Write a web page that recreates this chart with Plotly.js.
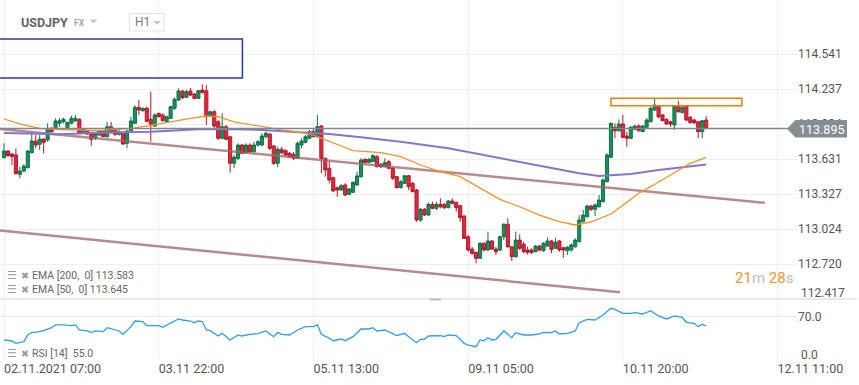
<!DOCTYPE html>
<html>
<head>
<meta charset="utf-8">
<script src="https://cdn.plot.ly/plotly-3.0.1.min.js"></script>
<style>
  html, body { margin: 0; padding: 0; background: #ffffff; }
  #chart { width: 859px; height: 385px; }
</style>
</head>
<body>
<div id="chart"></div>
<script>
// ---------------- DATA ----------------
const symbol = "USDJPY";
const timeframe = "H1";

// hourly candles, bar 0 = 02.11.2021 07:00
const openP = [113.642,113.700,113.674,113.666,113.498,113.527,113.556,113.686,113.787,113.759,
113.804,113.796,113.897,113.902,113.941,113.954,113.902,113.941,113.961,113.975,
113.859,113.876,113.859,113.811,113.839,113.874,113.824,113.911,113.889,113.845,
113.863,113.767,113.874,113.941,114.079,114.050,114.071,113.975,113.917,114.027,
114.013,113.954,113.984,114.071,114.143,114.221,114.166,114.221,114.195,114.157,
114.229,114.223,114.004,114.041,113.954,113.811,113.911,113.824,113.594,113.637,
113.752,113.686,113.752,113.694,113.752,113.752,113.824,113.848,113.744,113.594,
113.715,113.703,113.680,113.672,113.637,113.752,113.776,113.811,113.868,113.824,
113.917,113.637,113.550,113.469,113.382,113.362,113.406,113.325,113.342,113.406,
113.478,113.628,113.602,113.608,113.651,113.585,113.564,113.608,113.550,113.478,
113.382,113.420,113.486,113.420,113.362,113.102,113.195,113.145,113.238,113.203,
113.238,113.238,113.209,113.267,113.255,113.226,113.137,112.957,112.850,112.822,
112.770,112.900,112.842,112.920,112.850,112.842,112.957,113.065,112.870,112.784,
112.928,112.891,112.842,112.842,112.827,112.876,112.836,112.876,112.920,112.857,
112.920,112.862,112.836,112.842,112.870,112.914,113.087,113.131,113.223,113.195,
113.217,113.261,113.434,113.646,113.906,113.876,113.935,113.830,113.811,113.889,
113.917,113.868,113.906,113.954,114.056,114.093,114.013,113.975,113.954,113.926,
114.093,114.033,114.093,113.993,113.969,113.954,113.868,113.969];

const highP = [113.767,113.709,113.683,113.724,113.564,113.585,113.709,113.868,113.839,113.839,
113.811,113.941,113.909,113.984,113.984,113.989,113.954,114.007,114.013,113.984,
113.900,113.883,113.868,113.854,113.883,113.876,113.954,113.954,113.900,113.889,
113.868,113.883,113.998,114.099,114.143,114.076,114.085,114.215,114.027,114.033,
114.027,114.004,114.093,114.163,114.244,114.229,114.232,114.247,114.203,114.229,
114.279,114.273,114.050,114.056,113.969,114.027,113.926,113.830,113.666,113.767,
113.761,113.767,113.767,113.781,113.796,113.854,113.868,113.854,113.752,113.738,
113.738,113.715,113.692,113.692,113.781,113.811,113.839,113.883,113.897,114.013,
113.926,113.642,113.608,113.478,113.391,113.414,113.420,113.380,113.434,113.521,
113.637,113.637,113.642,113.672,113.666,113.596,113.637,113.622,113.562,113.484,
113.449,113.492,113.492,113.432,113.371,113.206,113.206,113.252,113.261,113.261,
113.290,113.249,113.275,113.290,113.261,113.232,113.139,112.972,112.868,112.827,
112.909,112.909,113.001,112.928,112.870,112.966,113.073,113.117,112.876,113.001,
112.978,112.914,112.870,112.857,112.885,112.885,112.909,112.952,112.928,112.948,
112.928,112.870,112.876,112.900,112.943,113.145,113.189,113.235,113.232,113.247,
113.319,113.464,113.680,113.946,113.941,113.975,114.013,113.868,113.917,113.926,
113.932,113.926,113.984,114.082,114.157,114.099,114.021,113.984,113.961,114.099,
114.134,114.099,114.099,114.004,113.978,113.954,113.963,114.004];

const lowP = [113.637,113.651,113.579,113.498,113.464,113.516,113.550,113.680,113.724,113.709,
113.680,113.781,113.861,113.897,113.911,113.941,113.891,113.932,113.954,113.854,
113.857,113.839,113.746,113.796,113.833,113.822,113.819,113.854,113.830,113.833,
113.752,113.724,113.868,113.935,114.013,114.041,113.949,113.781,113.909,113.993,
113.958,113.952,113.978,114.056,114.134,114.151,114.160,114.177,114.151,114.151,
114.201,113.926,113.995,113.900,113.796,113.802,113.796,113.512,113.550,113.622,
113.674,113.680,113.683,113.686,113.738,113.746,113.811,113.709,113.579,113.559,
113.674,113.657,113.640,113.622,113.631,113.724,113.767,113.804,113.822,113.816,
113.507,113.478,113.420,113.347,113.304,113.354,113.310,113.319,113.334,113.399,
113.469,113.594,113.596,113.605,113.559,113.553,113.559,113.544,113.449,113.377,
113.377,113.414,113.362,113.345,113.087,113.087,113.137,113.139,113.197,113.189,
113.203,113.197,113.203,113.238,113.174,113.087,112.937,112.827,112.798,112.726,
112.764,112.827,112.833,112.842,112.798,112.833,112.928,112.862,112.746,112.775,
112.842,112.813,112.804,112.807,112.822,112.833,112.827,112.870,112.813,112.850,
112.827,112.775,112.798,112.827,112.862,112.909,113.082,113.122,113.180,113.137,
113.212,113.255,113.429,113.637,113.811,113.868,113.811,113.738,113.802,113.883,
113.868,113.865,113.897,113.949,114.050,113.984,113.958,113.929,113.911,113.883,
114.033,114.027,113.961,113.941,113.935,113.811,113.811,113.897];

const closeP = [113.700,113.660,113.654,113.504,113.527,113.570,113.700,113.787,113.752,113.804,
113.776,113.897,113.868,113.961,113.963,113.975,113.949,113.984,113.984,113.859,
113.889,113.848,113.802,113.848,113.874,113.824,113.911,113.868,113.845,113.868,
113.761,113.874,113.961,114.079,114.056,114.071,113.958,113.935,114.013,113.998,
113.963,113.998,114.085,114.149,114.221,114.163,114.215,114.186,114.157,114.223,
114.206,113.998,114.041,113.917,113.811,113.911,113.802,113.594,113.646,113.752,
113.680,113.752,113.694,113.752,113.781,113.830,113.854,113.724,113.594,113.715,
113.686,113.666,113.651,113.637,113.767,113.787,113.824,113.868,113.824,113.911,
113.637,113.536,113.449,113.354,113.362,113.399,113.319,113.371,113.429,113.484,
113.622,113.602,113.628,113.660,113.564,113.564,113.599,113.550,113.464,113.382,
113.434,113.486,113.391,113.347,113.102,113.195,113.145,113.238,113.203,113.238,
113.217,113.209,113.267,113.247,113.209,113.122,112.943,112.842,112.813,112.770,
112.900,112.842,112.920,112.850,112.827,112.957,113.065,112.870,112.784,112.928,
112.857,112.827,112.822,112.822,112.876,112.842,112.900,112.920,112.848,112.909,
112.842,112.842,112.865,112.885,112.928,113.102,113.145,113.223,113.195,113.232,
113.275,113.449,113.666,113.941,113.876,113.935,113.819,113.811,113.906,113.917,
113.876,113.917,113.969,114.071,114.099,113.998,113.963,113.935,113.935,114.093,
114.041,114.079,113.969,113.946,113.946,113.868,113.963,113.895];

// EMA 50 (orange) sampled along the drawn line
const ema50Idx = [0,4,9,14,24,32,37,42,47,51,54,58,65,70,75,78,85,88,95,100,105,110,115,120,125,130,135,140,144,148,150,153,155,160,163,168,173,177];
const ema50Val = [113.978,113.935,113.897,113.887,113.878,113.896,113.922,113.954,113.984,114.004,113.998,113.954,113.911,113.883,113.861,113.839,113.744,113.703,113.686,113.651,113.579,113.521,113.478,113.377,113.281,113.217,113.145,113.087,113.059,113.085,113.115,113.154,113.204,113.334,113.391,113.492,113.594,113.645];

// EMA 200 (purple)
const ema200Idx = [0,14,24,37,49,57,65,75,82,90,100,112,125,138,145,150,158,165,173,177];
const ema200Val = [113.857,113.845,113.859,113.868,113.889,113.891,113.883,113.859,113.848,113.819,113.781,113.724,113.637,113.550,113.507,113.484,113.501,113.536,113.570,113.583];

// RSI 14
const rsiIdx = [0,2,3,5,6,7,8,10,12,13,15,17,18,19,21,22,23,25,26,28,29,30,32,33,35,36,38,39,40,42,44,45,47,48,49,50,51,52,54,55,57,59,60,62,64,66,68,69,70,72,74,76,78,79,80,82,83,85,86,88,90,92,93,94,96,99,101,102,104,105,106,107,110,111,112,114,115,116,117,119,120,121,122,123,124,126,128,129,131,133,135,136,138,139,140,142,144,145,147,149,151,153,154,156,158,159,161,163,165,167,169,171,172,174,175,176,177];
const rsiVal = [31.7,30,26,28.9,40,44.4,44.4,47.2,52.2,56.7,56.7,55.5,56.7,48.3,46.7,43.9,46.7,45.6,52.2,48.3,46.7,41.1,53.9,63.3,62.2,55.5,55.5,55.5,52.8,59.4,66.7,65,63.3,60.5,63.3,62.5,48.3,47.2,38.3,42.8,31.7,40,38.3,41.1,42.2,46.7,37.2,44.4,41.1,40,48.3,53.9,53.9,56.7,41.1,34.4,30.5,33.3,30.5,37.2,50,50,52.2,46.7,48.3,38.9,42.8,37.2,27.2,32.8,32.8,38.3,38.9,37.2,40,38.9,33.3,26.1,23.3,20.5,31.7,30.5,35.5,31.7,32.8,46.7,35.5,43.9,40,40,41.7,44.4,43.9,46.7,41.7,42.8,46.7,60.5,66.1,65,73.3,84.5,82.8,76.1,76.1,77.2,75,80.5,71.7,66.7,71.7,69.5,61.2,59.4,53.9,57.8,55.0];

// drawn trendlines (bar index, price)
const trendUpperX = [-1.0, 191.8];
const trendUpperY = [113.891, 113.252];
const trendLowerX = [-1.0, 155.3];
const trendLowerY = [113.011, 112.475];

// drawn boxes
const blueBoxX = [-1.5, 60.1];
const blueBoxY = [114.334, 114.672];
const zoneX = [153.0, 186.0];
const zoneY = [114.093, 114.157];

const lastPrice = 113.895;
const ema200Last = 113.583;
const ema50Last = 113.645;
const rsiLast = 55.0;
const timer = ["21", "28"];

const xTickVals = [0, 39, 78, 117, 156, 195];
const xTickText = ["02.11.2021 07:00", "03.11 22:00", "05.11 13:00", "09.11 05:00", "10.11 20:00", "12.11 11:00"];
const yTickVals = [112.417, 112.720, 113.024, 113.327, 113.631, 113.934, 114.237, 114.541];
const rsiTickVals = [0, 70];

// ---------------- CHART ----------------
const W = 859, H = 385;
const px = x => x / W;
const py = y => 1 - y / H;
const bars = closeP.map((_, i) => i);
const FONT = "Roboto, 'Noto Sans', sans-serif";

const traces = [
  {
    type: "candlestick", x: bars, open: openP, high: highP, low: lowP, close: closeP,
    xaxis: "x", yaxis: "y",
    increasing: { line: { color: "#137046", width: 1 }, fillcolor: "#1b8f5b" },
    decreasing: { line: { color: "#b3172a", width: 1 }, fillcolor: "#e02a3b" },
    whiskerwidth: 0, hoverinfo: "skip"
  },
  { type: "scatter", mode: "lines", x: trendUpperX, y: trendUpperY, xaxis: "x", yaxis: "y",
    line: { color: "rgba(160,100,100,0.75)", width: 2.5 }, hoverinfo: "skip" },
  { type: "scatter", mode: "lines", x: trendLowerX, y: trendLowerY, xaxis: "x", yaxis: "y",
    line: { color: "rgba(160,100,100,0.75)", width: 2.5 }, hoverinfo: "skip" },
  { type: "scatter", mode: "lines", x: ema200Idx, y: ema200Val, xaxis: "x", yaxis: "y",
    line: { color: "#8a72cf", width: 2 }, hoverinfo: "skip" },
  { type: "scatter", mode: "lines", x: ema50Idx, y: ema50Val, xaxis: "x", yaxis: "y",
    line: { color: "#f59127", width: 1.3 }, hoverinfo: "skip" },
  { type: "scatter", mode: "lines", x: rsiIdx, y: rsiVal, xaxis: "x", yaxis: "y2",
    line: { color: "#2f9cf6", width: 1.3 }, hoverinfo: "skip" }
];

const shapes = [
  // pane separator
  { type: "line", xref: "paper", yref: "paper", x0: 0, x1: px(857), y0: py(299), y1: py(299),
    line: { color: "#d4d4d4", width: 1 } },
  { type: "rect", xref: "paper", yref: "paper", x0: px(430), x1: px(441), y0: py(300.5), y1: py(298.5),
    fillcolor: "#bdbdbd", line: { width: 0 } },
  // blue box
  { type: "rect", xref: "x", yref: "y", x0: blueBoxX[0], x1: blueBoxX[1], y0: blueBoxY[0], y1: blueBoxY[1],
    line: { color: "#2b3a9e", width: 1.5 }, fillcolor: "rgba(0,0,0,0)" },
  // orange resistance zone
  { type: "rect", xref: "x", yref: "y", x0: zoneX[0], x1: zoneX[1], y0: zoneY[0], y1: zoneY[1],
    line: { color: "#ef7d0a", width: 1.5 }, fillcolor: "rgba(0,0,0,0)" },
  // last price line
  { type: "line", xref: "paper", yref: "y", x0: 0, x1: px(790), y0: lastPrice, y1: lastPrice,
    line: { color: "#7d8990", width: 1.5 } },
  // price tag
  { type: "path", xref: "paper", yref: "paper",
    path: `M ${px(787)} ${py(128.7)} L ${px(795.5)} ${py(120)} L ${px(847)} ${py(120)} L ${px(847)} ${py(137.5)} L ${px(795.5)} ${py(137.5)} Z`,
    fillcolor: "#858e93", line: { width: 0 } },
  // H1 box
  { type: "rect", xref: "paper", yref: "paper", x0: px(129.5), x1: px(164), y0: py(31), y1: py(13.5),
    line: { color: "#e2e2e2", width: 1 }, fillcolor: "#ffffff" },
  // dropdown triangles
  { type: "path", xref: "paper", yref: "paper",
    path: `M ${px(89.5)} ${py(19.5)} L ${px(97.5)} ${py(19.5)} L ${px(93.5)} ${py(23.5)} Z`,
    fillcolor: "#c5c9cd", line: { width: 0 } },
  { type: "path", xref: "paper", yref: "paper",
    path: `M ${px(153)} ${py(21)} L ${px(161)} ${py(21)} L ${px(157)} ${py(25)} Z`,
    fillcolor: "#c5c9cd", line: { width: 0 } }
];

const icon = (y) => [
  { xref: "paper", yref: "paper", x: px(5), y: py(y), xanchor: "left", yanchor: "middle", showarrow: false,
    text: "☰", font: { family: "'DejaVu Sans', sans-serif", size: 11, color: "#9a9a9a" } },
  { xref: "paper", yref: "paper", x: px(18.5), y: py(y), xanchor: "left", yanchor: "middle", showarrow: false,
    text: "✖", font: { family: "'DejaVu Sans', sans-serif", size: 9.5, color: "#9a9a9a" } }
];

const annotations = [
  { xref: "paper", yref: "paper", x: px(19), y: py(22), xanchor: "left", yanchor: "middle", showarrow: false,
    text: "<b>" + symbol + "</b>", font: { family: FONT, size: 12.5, color: "#5f6368" } },
  { xref: "paper", yref: "paper", x: px(71.5), y: py(23), xanchor: "left", yanchor: "middle", showarrow: false,
    text: "<b>FX</b>", font: { family: FONT, size: 8.5, color: "#a3a9ae" } },
  { xref: "paper", yref: "paper", x: px(133), y: py(22.5), xanchor: "left", yanchor: "middle", showarrow: false,
    text: timeframe, font: { family: FONT, size: 12, color: "#7a7a7a" } },
  ...icon(275), ...icon(289), ...icon(353),
  { xref: "paper", yref: "paper", x: px(30), y: py(275), xanchor: "left", yanchor: "middle", showarrow: false,
    text: "EMA [200,\u00a0 0] " + ema200Last.toFixed(3), font: { family: FONT, size: 10.5, color: "#666" } },
  { xref: "paper", yref: "paper", x: px(30), y: py(289), xanchor: "left", yanchor: "middle", showarrow: false,
    text: "EMA [50,\u00a0 0] " + ema50Last.toFixed(3), font: { family: FONT, size: 10.5, color: "#666" } },
  { xref: "paper", yref: "paper", x: px(30), y: py(353), xanchor: "left", yanchor: "middle", showarrow: false,
    text: "RSI [14]\u00a0 " + rsiLast.toFixed(1), font: { family: FONT, size: 10.5, color: "#666" } },
  { xref: "paper", yref: "paper", x: px(733), y: py(278), xanchor: "left", yanchor: "middle", showarrow: false,
    text: `<span style="color:#f7931e">${timer[0]}</span><span style="color:#bdbdbd">m </span><span style="color:#f7931e">${timer[1]}</span><span style="color:#bdbdbd">s</span>`,
    font: { family: FONT, size: 15, color: "#f7931e" } },
  { xref: "paper", yref: "paper", x: px(821), y: py(129), xanchor: "center", yanchor: "middle", showarrow: false,
    text: lastPrice.toFixed(3), font: { family: FONT, size: 12.5, color: "#ffffff" } },
  // bottom-most labels sit just above their grid lines
  { xref: "paper", yref: "paper", x: px(799), y: py(293), xanchor: "left", yanchor: "middle", showarrow: false,
    text: yTickVals[0].toFixed(3), font: { family: FONT, size: 12, color: "#555" } },
  { xref: "paper", yref: "paper", x: px(799), y: py(355), xanchor: "left", yanchor: "middle", showarrow: false,
    text: rsiTickVals[0].toFixed(1), font: { family: FONT, size: 12, color: "#555" } }
];

const layout = {
  width: W, height: H,
  margin: { l: 0, r: 0, t: 0, b: 0 },
  paper_bgcolor: "#ffffff", plot_bgcolor: "#ffffff",
  showlegend: false,
  font: { family: FONT, color: "#555" },
  boxgap: 0.22, boxgroupgap: 0,
  xaxis: {
    domain: [0, px(797)], range: [-1.008, 199.9], anchor: "y2",
    tickmode: "array", tickvals: xTickVals, ticktext: xTickText,
    ticklabelposition: "outside right", ticks: "", showgrid: true, gridcolor: "#efefef", gridwidth: 1,
    zeroline: false, showline: false, rangeslider: { visible: false },
    tickfont: { family: FONT, size: 12.5, color: "#555" }, fixedrange: true
  },
  yaxis: {
    domain: [py(299), 1], range: [112.417, 115.010], side: "right", anchor: "x",
    tickmode: "array", tickvals: yTickVals, ticktext: yTickVals.map((v, i) => i === 0 ? "" : v.toFixed(3)),
    ticks: "", showgrid: true, gridcolor: "#efefef", zeroline: false, showline: false,
    tickfont: { family: FONT, size: 12, color: "#555" }, fixedrange: true
  },
  yaxis2: {
    domain: [py(359), py(300)], range: [0, 98.3], side: "right", anchor: "x",
    tickmode: "array", tickvals: rsiTickVals, ticktext: rsiTickVals.map((v, i) => i === 0 ? "" : v.toFixed(1)),
    ticks: "", showgrid: true, gridcolor: "#efefef", zeroline: false, showline: false,
    tickfont: { family: FONT, size: 12, color: "#555" }, fixedrange: true
  },
  shapes: shapes,
  annotations: annotations
};

Plotly.newPlot("chart", traces, layout, { staticPlot: true, displayModeBar: false });
</script>
</body>
</html>
